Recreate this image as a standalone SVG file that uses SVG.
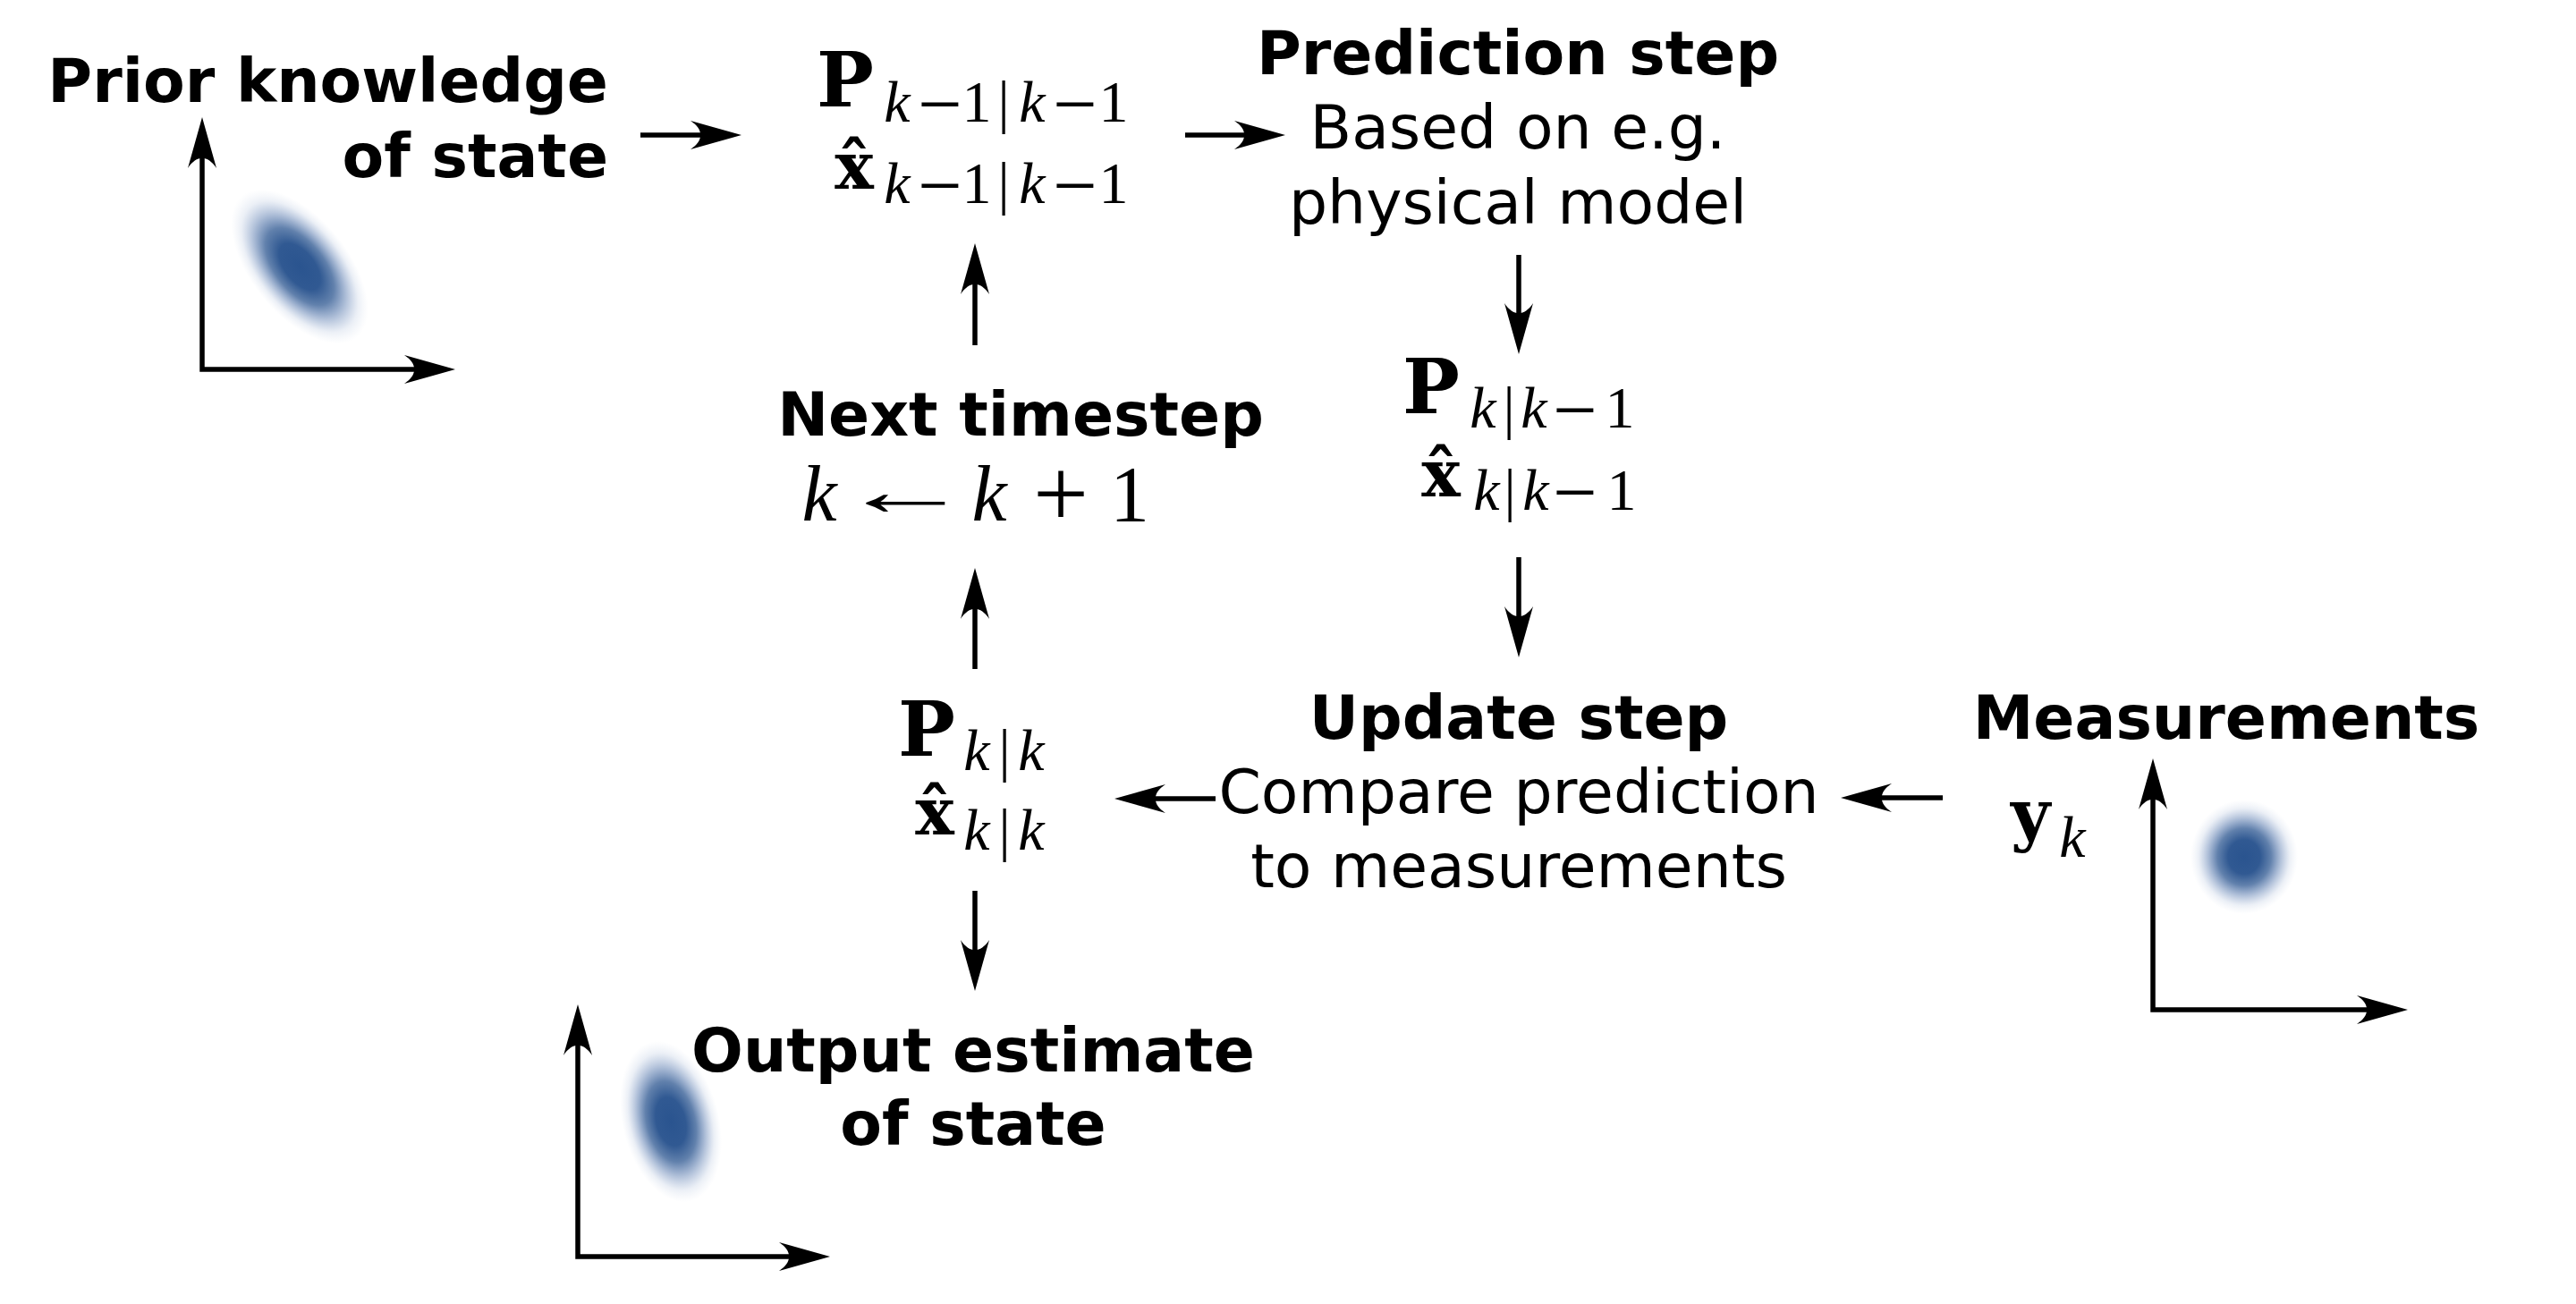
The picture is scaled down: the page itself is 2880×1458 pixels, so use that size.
<svg xmlns="http://www.w3.org/2000/svg" width="2880" height="1458" viewBox="0 0 2880 1458">
<defs>
<style>
.t{font-family:"DejaVu Sans","Noto Sans",sans-serif;font-size:68px;fill:#000}
.b{font-weight:bold}
.c{text-anchor:middle}
.r{text-anchor:end}
.m{text-anchor:middle;fill:#000}
.bP{font-family:"DejaVu Serif",serif;font-weight:bold;font-size:85px}
.bx{font-family:"DejaVu Serif",serif;font-weight:bold;font-size:73px}
.sk{font-family:"Liberation Serif",serif;font-style:italic;font-size:66px}
.sm{font-family:"Liberation Serif",serif;font-size:88px}
.s1{font-family:"Liberation Serif",serif;font-size:66px}
.bk{font-family:"Liberation Serif",serif;font-style:italic;font-size:88px}
.bo{font-family:"Liberation Serif","DejaVu Sans",serif;font-size:80px}
.bp{font-family:"Liberation Serif",serif;font-size:110px}
.b1{font-family:"Liberation Serif",serif;font-size:88px}
.ln{fill:none;stroke:#000;stroke-width:5.5;stroke-linejoin:miter}
.ar{marker-end:url(#ah)}
.ax{marker-start:url(#ah);marker-end:url(#ah)}
</style>
<marker id="ah" markerUnits="userSpaceOnUse" viewBox="-20 -18 62 36" refX="0" refY="0" markerWidth="62" markerHeight="36" orient="auto-start-reverse" overflow="visible">
<path d="M40,0 L-17,-16 C-2,-6 -2,6 -17,16 Z" fill="#000"/>
</marker>
<radialGradient id="blob" cx="0.5" cy="0.5" r="0.5">
<stop offset="0" stop-color="#2a548f" stop-opacity="1"/>
<stop offset="0.3" stop-color="#2a548f" stop-opacity="0.97"/>
<stop offset="0.5" stop-color="#2d5791" stop-opacity="0.75"/>
<stop offset="0.68" stop-color="#3a62a0" stop-opacity="0.4"/>
<stop offset="0.85" stop-color="#5a7db5" stop-opacity="0.12"/>
<stop offset="1" stop-color="#8aa3cc" stop-opacity="0"/>
</radialGradient>
</defs>
<rect width="2880" height="1458" fill="#fff"/>

<g id="prior">
<text class="t b r" x="680" y="114">Prior knowledge</text>
<text class="t b r" x="680" y="198">of state</text>
</g>

<g id="prior-plot">
<ellipse cx="335" cy="298" rx="54" ry="102" fill="url(#blob)" transform="rotate(-39 335 298)"/>
<path class="ln ax" d="M226,171 V413 H469"/>
</g>

<g id="state-prev">
<text class="m"><tspan class="bP" x="945" y="119">P</tspan><tspan class="sk" x="1003" y="136">k</tspan><tspan class="sm" x="1051" y="146">−</tspan><tspan class="s1" x="1092" y="136">1</tspan><tspan class="s1" x="1122" y="136">|</tspan><tspan class="sk" x="1154" y="136">k</tspan><tspan class="sm" x="1202" y="146">−</tspan><tspan class="s1" x="1245" y="136">1</tspan></text>
<text class="m"><tspan class="bx" x="955" y="211">x̂</tspan><tspan class="sk" x="1003" y="227">k</tspan><tspan class="sm" x="1051" y="237">−</tspan><tspan class="s1" x="1092" y="227">1</tspan><tspan class="s1" x="1122" y="227">|</tspan><tspan class="sk" x="1154" y="227">k</tspan><tspan class="sm" x="1202" y="237">−</tspan><tspan class="s1" x="1245" y="227">1</tspan></text>
</g>

<g id="prediction">
<text class="t b c" x="1697" y="83">Prediction step</text>
<text class="t c" x="1697" y="166">Based on e.g.</text>
<text class="t c" x="1697" y="250">physical model</text>
</g>

<g id="state-pred">
<text class="m"><tspan class="bP" x="1600" y="462">P</tspan><tspan class="sk" x="1658" y="478">k</tspan><tspan class="s1" x="1687" y="478">|</tspan><tspan class="sk" x="1715" y="478">k</tspan><tspan class="sm" x="1761" y="488">−</tspan><tspan class="s1" x="1811" y="478">1</tspan></text>
<text class="m"><tspan class="bx" x="1611" y="555">x̂</tspan><tspan class="sk" x="1662" y="570">k</tspan><tspan class="s1" x="1688" y="570">|</tspan><tspan class="sk" x="1717" y="570">k</tspan><tspan class="sm" x="1761" y="580">−</tspan><tspan class="s1" x="1813" y="570">1</tspan></text>
</g>

<g id="update">
<text class="t b c" x="1698" y="826">Update step</text>
<text class="t c" x="1698" y="909">Compare prediction</text>
<text class="t c" x="1698" y="992">to measurements</text>
</g>

<g id="measurements">
<text class="t b c" x="2489" y="826">Measurements</text>
<text class="m"><tspan class="bx" x="2270" y="937" style="font-size:76px">y</tspan><tspan class="sk" x="2317" y="958">k</tspan></text>
</g>

<g id="meas-plot">
<ellipse cx="2509" cy="958" rx="60" ry="64" fill="url(#blob)"/>
<path class="ln ax" d="M2407,888 V1129 H2652"/>
</g>

<g id="state-upd">
<text class="m"><tspan class="bP" x="1036" y="845">P</tspan><tspan class="sk" x="1092" y="861">k</tspan><tspan class="s1" x="1123" y="861">|</tspan><tspan class="sk" x="1153" y="861">k</tspan></text>
<text class="m"><tspan class="bx" x="1045" y="933">x̂</tspan><tspan class="sk" x="1092" y="950">k</tspan><tspan class="s1" x="1123" y="950">|</tspan><tspan class="sk" x="1153" y="950">k</tspan></text>
</g>

<g id="next">
<text class="t b c" x="1141" y="487">Next timestep</text>
<text class="m"><tspan class="bk" x="916" y="582">k</tspan><tspan class="bk" x="1106" y="582">k</tspan><tspan class="bp" x="1186" y="589">+</tspan><tspan class="b1" x="1263" y="582">1</tspan></text>
<text class="m bo" transform="translate(1012,576) scale(1.86,1)" x="0" y="0">←</text>
</g>

<g id="output">
<text class="t b c" x="1088" y="1198">Output estimate</text>
<text class="t b c" x="1088" y="1280">of state</text>
</g>

<g id="output-plot">
<ellipse cx="750" cy="1254" rx="54" ry="92" fill="url(#blob)" transform="rotate(-14 750 1254)"/>
<path class="ln ax" d="M646,1163 V1405 H888"/>
</g>

<g id="connectors">
<path class="ln ar" d="M716,151 H789"/>
<path class="ln ar" d="M1325,151 H1397"/>
<path class="ln ar" d="M1698,285 V356"/>
<path class="ln ar" d="M1698,623 V695"/>
<path class="ln ar" d="M2172,892 H2098"/>
<path class="ln ar" d="M1359,893 H1286"/>
<path class="ln ar" d="M1090,996 V1068"/>
<path class="ln ar" d="M1090,748 V675"/>
<path class="ln ar" d="M1090,386 V312"/>
</g>
</svg>
